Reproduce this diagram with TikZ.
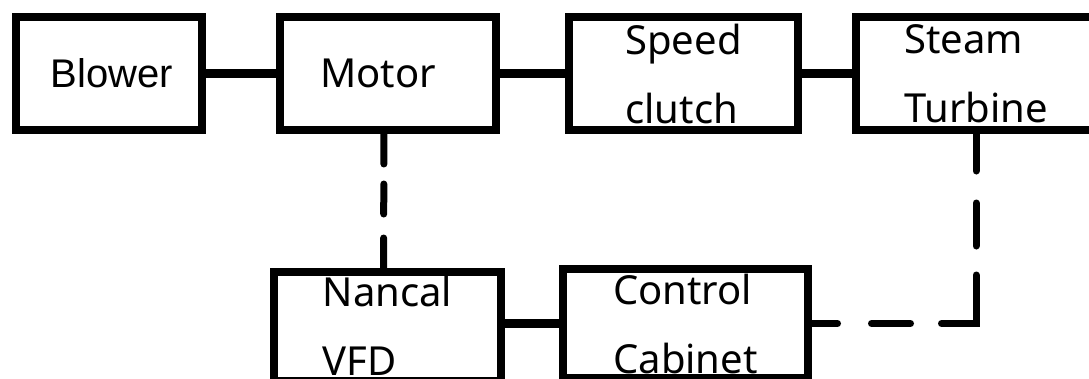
\documentclass[tikz,border=0pt]{standalone}
\usepackage{fontspec}
\setmainfont{Noto Sans}
\newfontfamily\blowerfont{Liberation Sans}

\begin{document}
\begin{tikzpicture}[x=1pt, y=-1pt,
    unit/.style={draw, line width=8pt, inner sep=0pt, outer sep=0pt,
        minimum height=113pt, align=left, font=\fontsize{40}{69}\selectfont},
    shaft/.style={line width=9pt},
    signal/.style={line width=7pt, line cap=round}]
    \useasboundingbox (0, 0) rectangle (1089, 378);
    \clip (0, 0) rectangle (1089, 378);

    % drive train
    \node[unit, minimum width=186pt, font=\blowerfont\fontsize{40}{69}\selectfont] (blower) at (109, 73.5) {\hspace{6pt}Blower};
    \node[unit, minimum width=216pt] (motor) at (388, 73.5) {Motor\hspace{20pt}};
    \node[unit, minimum width=229pt] (clutch) at (683.5, 73.5) {Speed\\clutch};
    \node[unit, minimum width=240pt] (turbine) at (976, 73.5) {Steam\\Turbine};

    \draw[shaft] (blower) -- (motor);
    \draw[shaft] (motor) -- (clutch);
    \draw[shaft] (clutch) -- (turbine);

    % control
    \node[unit, minimum width=227pt, minimum height=109pt] (vfd) at (387.5, 326) {Nancal\\VFD};
    \node[unit, minimum width=245pt, minimum height=109pt] (cabinet) at (685.5, 323.5) {Control\\Cabinet};

    \draw[shaft] (cabinet.west -| vfd.east) -- (cabinet.west);
    \draw[signal, dash pattern=on 34pt off 20pt on 30pt off 24pt on 40pt off 10pt]
        ([xshift=-4pt]motor.south) -- ([xshift=-4pt]vfd.north);
    \draw[signal, dash pattern=on 41pt off 32pt on 43pt off 29pt on 83pt off 31pt on 39pt off 34pt on 30pt off 10pt]
        (turbine.south) |- (cabinet.east);
\end{tikzpicture}
\end{document}
